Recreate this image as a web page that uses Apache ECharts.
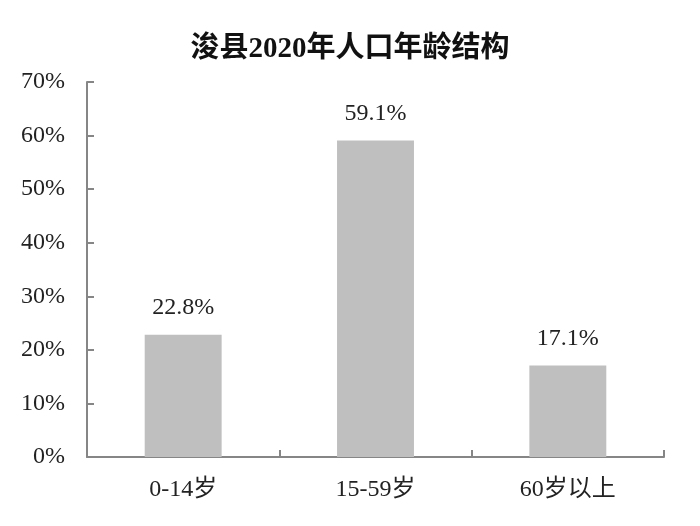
<!DOCTYPE html>
<html>
<head>
<meta charset="utf-8">
<script src="https://cdn.jsdelivr.net/npm/echarts@6/dist/echarts.min.js"></script>
<style>html,body{margin:0;padding:0;background:#fff}#c{width:700px;height:526px}</style>
</head>
<body>
<div id="c"></div>
<script>
const titleText = '浚县2020年人口年龄结构';
const categories = ['0-14岁', '15-59岁', '60岁以上'];
const values = [22.8, 59.1, 17.1];
const yTicks = [0, 10, 20, 30, 40, 50, 60, 70];

const serif = '"Liberation Serif", "Times New Roman", "Noto Sans CJK SC", serif';
const chart = echarts.init(document.getElementById('c'));
chart.setOption({
  backgroundColor: '#fff',
  animation: false,
  title: {
    text: titleText,
    left: 'center',
    top: 30,
    textStyle: { fontFamily: serif, fontSize: 29, fontWeight: 'bold', color: '#111' }
  },
  grid: { left: 87, right: 36, top: 82, bottom: 69 },
  xAxis: {
    type: 'category',
    data: categories,
    axisLine: { lineStyle: { color: '#868686', width: 2 } },
    axisTick: { show: true, inside: true, length: 7, lineStyle: { color: '#868686', width: 2 } },
    axisLabel: { fontFamily: serif, fontSize: 24, color: '#222', margin: 21 }
  },
  yAxis: {
    type: 'value',
    min: yTicks[0],
    max: yTicks[yTicks.length - 1],
    interval: 10,
    splitLine: { show: false },
    axisLine: { show: true, lineStyle: { color: '#868686', width: 2 } },
    axisTick: { show: true, inside: true, length: 7, lineStyle: { color: '#868686', width: 2 } },
    axisLabel: { fontFamily: serif, fontSize: 24, color: '#222', margin: 22, formatter: '{value}%' }
  },
  series: [{
    type: 'bar',
    data: values,
    barWidth: '40%',
    itemStyle: { color: '#bfbfbf' },
    label: {
      show: true,
      position: 'top',
      distance: 15,
      fontFamily: serif,
      fontSize: 24,
      color: '#222',
      formatter: p => p.value.toFixed(1) + '%'
    }
  }]
});
</script>
</body>
</html>
